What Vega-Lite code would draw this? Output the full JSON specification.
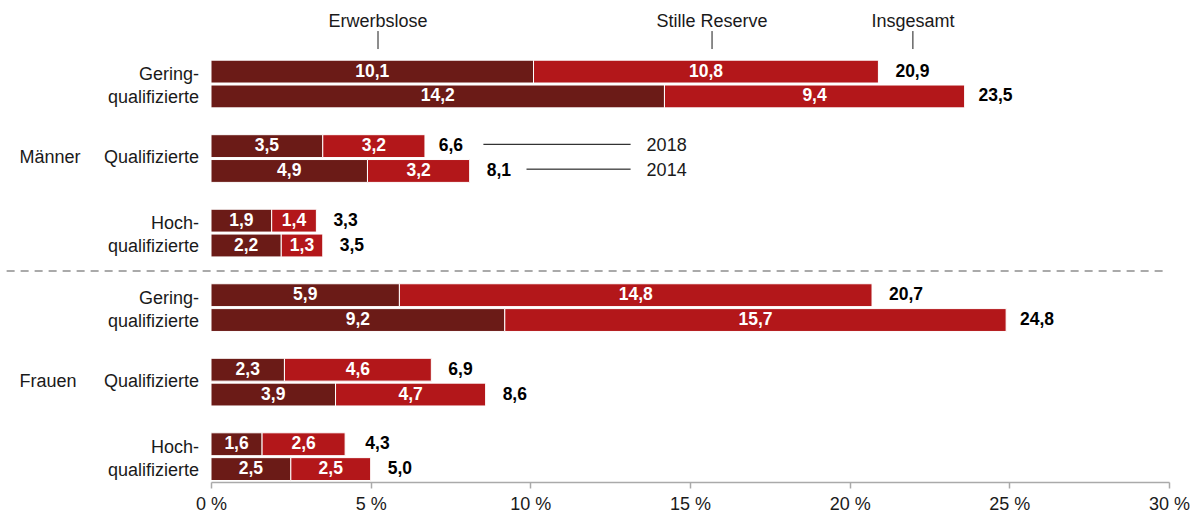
{
  "$schema": "https://vega.github.io/schema/vega-lite/v6.json",
  "width": 958,
  "height": 473,
  "autosize": {"type": "none"},
  "padding": {"left": 211, "top": 9, "right": 28, "bottom": 34},
  "background": "white",
  "config": {
    "view": {"stroke": null},
    "font": "Liberation Sans",
    "locale": {"number": {"decimal": ",", "thousands": ".", "grouping": [3], "currency": ["", " €"]}}
  },
  "datasets": {
    "main": [
      {"row": "M-G-2018", "Geschlecht": "Männer", "Gruppe": "Geringqualifizierte", "Jahr": "2018", "Erwerbslose": 10.1, "Stille Reserve": 10.8, "Insgesamt": 20.9},
      {"row": "M-G-2014", "Geschlecht": "Männer", "Gruppe": "Geringqualifizierte", "Jahr": "2014", "Erwerbslose": 14.2, "Stille Reserve": 9.4, "Insgesamt": 23.5},
      {"row": "M-Q-2018", "Geschlecht": "Männer", "Gruppe": "Qualifizierte", "Jahr": "2018", "Erwerbslose": 3.5, "Stille Reserve": 3.2, "Insgesamt": 6.6},
      {"row": "M-Q-2014", "Geschlecht": "Männer", "Gruppe": "Qualifizierte", "Jahr": "2014", "Erwerbslose": 4.9, "Stille Reserve": 3.2, "Insgesamt": 8.1},
      {"row": "M-H-2018", "Geschlecht": "Männer", "Gruppe": "Hochqualifizierte", "Jahr": "2018", "Erwerbslose": 1.9, "Stille Reserve": 1.4, "Insgesamt": 3.3},
      {"row": "M-H-2014", "Geschlecht": "Männer", "Gruppe": "Hochqualifizierte", "Jahr": "2014", "Erwerbslose": 2.2, "Stille Reserve": 1.3, "Insgesamt": 3.5},
      {"row": "F-G-2018", "Geschlecht": "Frauen", "Gruppe": "Geringqualifizierte", "Jahr": "2018", "Erwerbslose": 5.9, "Stille Reserve": 14.8, "Insgesamt": 20.7},
      {"row": "F-G-2014", "Geschlecht": "Frauen", "Gruppe": "Geringqualifizierte", "Jahr": "2014", "Erwerbslose": 9.2, "Stille Reserve": 15.7, "Insgesamt": 24.8},
      {"row": "F-Q-2018", "Geschlecht": "Frauen", "Gruppe": "Qualifizierte", "Jahr": "2018", "Erwerbslose": 2.3, "Stille Reserve": 4.6, "Insgesamt": 6.9},
      {"row": "F-Q-2014", "Geschlecht": "Frauen", "Gruppe": "Qualifizierte", "Jahr": "2014", "Erwerbslose": 3.9, "Stille Reserve": 4.7, "Insgesamt": 8.6},
      {"row": "F-H-2018", "Geschlecht": "Frauen", "Gruppe": "Hochqualifizierte", "Jahr": "2018", "Erwerbslose": 1.6, "Stille Reserve": 2.6, "Insgesamt": 4.3},
      {"row": "F-H-2014", "Geschlecht": "Frauen", "Gruppe": "Hochqualifizierte", "Jahr": "2014", "Erwerbslose": 2.5, "Stille Reserve": 2.5, "Insgesamt": 5.0}
    ],
    "cats2": [
      {"row": "M-G-2018", "label": "Gering-\nqualifizierte"},
      {"row": "M-H-2018", "label": "Hoch-\nqualifizierte"},
      {"row": "F-G-2018", "label": "Gering-\nqualifizierte"},
      {"row": "F-H-2018", "label": "Hoch-\nqualifizierte"}
    ],
    "cats1": [
      {"row": "M-Q-2018", "label": "Qualifizierte"},
      {"row": "F-Q-2018", "label": "Qualifizierte"}
    ],
    "groups": [
      {"row": "M-Q-2018", "label": "Männer"},
      {"row": "F-Q-2018", "label": "Frauen"}
    ],
    "years": [
      {"row": "M-Q-2018", "start": 8.53, "end": 13.14, "label": "2018"},
      {"row": "M-Q-2014", "start": 9.88, "end": 13.14, "label": "2014"}
    ],
    "hdr": [
      {"label": "Erwerbslose", "x": 5.23},
      {"label": "Stille Reserve", "x": 15.69},
      {"label": "Insgesamt", "x": 21.98}
    ]
  },
  "layer": [
    {
      "data": {"values": [{"name": "Trennlinie"}]},
      "mark": {"type": "rule", "color": "#aaaaaa", "strokeWidth": 2, "strokeDash": [8, 6]},
      "encoding": {
        "y": {"datum": "sep", "type": "nominal", "bandPosition": 0.53, "axis": null, "scale": {"domain": ["h1","h2","M-G-2018","M-G-2014","M-gap1","M-Q-2018","M-Q-2014","M-gap2","M-H-2018","M-H-2014","sep","F-G-2018","F-G-2014","F-gap1","F-Q-2018","F-Q-2014","F-gap2","F-H-2018","F-H-2014"], "paddingInner": 0.08, "paddingOuter": 0.06}},
        "x": {"datum": -6.4, "type": "quantitative"},
        "x2": {"datum": 29.8}
      }
    },
    {
      "data": {"name": "main"},
      "transform": [{"fold": ["Erwerbslose", "Stille Reserve"], "as": ["Anteil", "Wert"]}],
      "mark": {"type": "bar", "stroke": "white", "strokeWidth": 1},
      "encoding": {
        "y": {"field": "row", "type": "nominal", "axis": null},
        "x": {
          "field": "Wert", "type": "quantitative", "stack": "zero",
          "scale": {"domain": [0, 30], "nice": false},
          "axis": {
            "values": [0, 5, 10, 15, 20, 25, 30],
            "labelExpr": "datum.value + ' %'",
            "title": null, "grid": false,
            "domainColor": "#aaaaaa", "domainWidth": 1.5,
            "tickColor": "#aaaaaa", "tickWidth": 1.5, "tickSize": 6,
            "labelPadding": 7, "labelFontSize": 18, "labelColor": "#1a1a1a",
            "labelFont": "Liberation Sans", "labelFlush": false
          }
        },
        "color": {"field": "Anteil", "type": "nominal", "scale": {"domain": ["Erwerbslose", "Stille Reserve"], "range": ["#6B1B17", "#B3171A"]}, "legend": null},
        "order": {"field": "Anteil", "sort": "ascending"}
      }
    },
    {
      "data": {"name": "main"},
      "transform": [{"fold": ["Erwerbslose", "Stille Reserve"], "as": ["Anteil", "Wert"]}],
      "mark": {"type": "text", "color": "white", "fontWeight": "bold", "fontSize": 17.5, "baseline": "middle", "align": "center"},
      "encoding": {
        "y": {"field": "row", "type": "nominal", "axis": null},
        "x": {"field": "Wert", "type": "quantitative", "stack": "zero", "bandPosition": 0.5},
        "detail": {"field": "Anteil"},
        "order": {"field": "Anteil", "sort": "ascending"},
        "text": {"field": "Wert", "type": "quantitative", "format": ".1f"}
      }
    },
    {
      "data": {"name": "main"},
      "mark": {"type": "text", "color": "#000000", "fontWeight": "bold", "fontSize": 17.5, "baseline": "middle", "align": "left", "dx": 17},
      "encoding": {
        "y": {"field": "row", "type": "nominal", "axis": null},
        "x": {"field": "Insgesamt", "type": "quantitative"},
        "text": {"field": "Insgesamt", "type": "quantitative", "format": ".1f"}
      }
    },
    {
      "data": {"name": "cats2"},
      "mark": {"type": "text", "color": "#1a1a1a", "fontSize": 18, "baseline": "middle", "align": "right", "dx": -12, "lineBreak": "\n", "lineHeight": 23},
      "encoding": {
        "y": {"field": "row", "type": "nominal", "axis": null, "bandPosition": 0.65},
        "x": {"datum": 0, "type": "quantitative"},
        "text": {"field": "label"}
      }
    },
    {
      "data": {"name": "cats1"},
      "mark": {"type": "text", "color": "#1a1a1a", "fontSize": 18, "baseline": "middle", "align": "right", "dx": -12},
      "encoding": {
        "y": {"field": "row", "type": "nominal", "axis": null, "bandPosition": 1.04},
        "x": {"datum": 0, "type": "quantitative"},
        "text": {"field": "label"}
      }
    },
    {
      "data": {"name": "groups"},
      "mark": {"type": "text", "color": "#1a1a1a", "fontSize": 18, "baseline": "middle", "align": "left"},
      "encoding": {
        "y": {"field": "row", "type": "nominal", "axis": null, "bandPosition": 1.04},
        "x": {"datum": -6, "type": "quantitative"},
        "text": {"field": "label"}
      }
    },
    {
      "data": {"name": "years"},
      "mark": {"type": "rule", "color": "#000000", "strokeWidth": 1},
      "encoding": {
        "y": {"field": "row", "type": "nominal", "axis": null, "bandPosition": 0.42},
        "x": {"field": "start", "type": "quantitative"},
        "x2": {"field": "end"}
      }
    },
    {
      "data": {"name": "years"},
      "mark": {"type": "text", "color": "#1a1a1a", "fontSize": 18, "baseline": "middle", "align": "left", "dx": 16},
      "encoding": {
        "y": {"field": "row", "type": "nominal", "axis": null},
        "x": {"field": "end", "type": "quantitative"},
        "text": {"field": "label"}
      }
    },
    {
      "data": {"name": "hdr"},
      "mark": {"type": "text", "color": "#1a1a1a", "fontSize": 18, "baseline": "middle", "align": "center"},
      "encoding": {
        "y": {"datum": "h1", "type": "nominal", "bandPosition": 0.52, "axis": null},
        "x": {"field": "x", "type": "quantitative"},
        "text": {"field": "label"}
      }
    },
    {
      "data": {"name": "hdr"},
      "mark": {"type": "rule", "color": "#1a1a1a", "strokeWidth": 1},
      "encoding": {
        "y": {"datum": "h1", "type": "nominal", "bandPosition": 0.9, "axis": null},
        "y2": {"datum": "h2", "bandPosition": 0.6},
        "x": {"field": "x", "type": "quantitative"}
      }
    }
  ]
}
